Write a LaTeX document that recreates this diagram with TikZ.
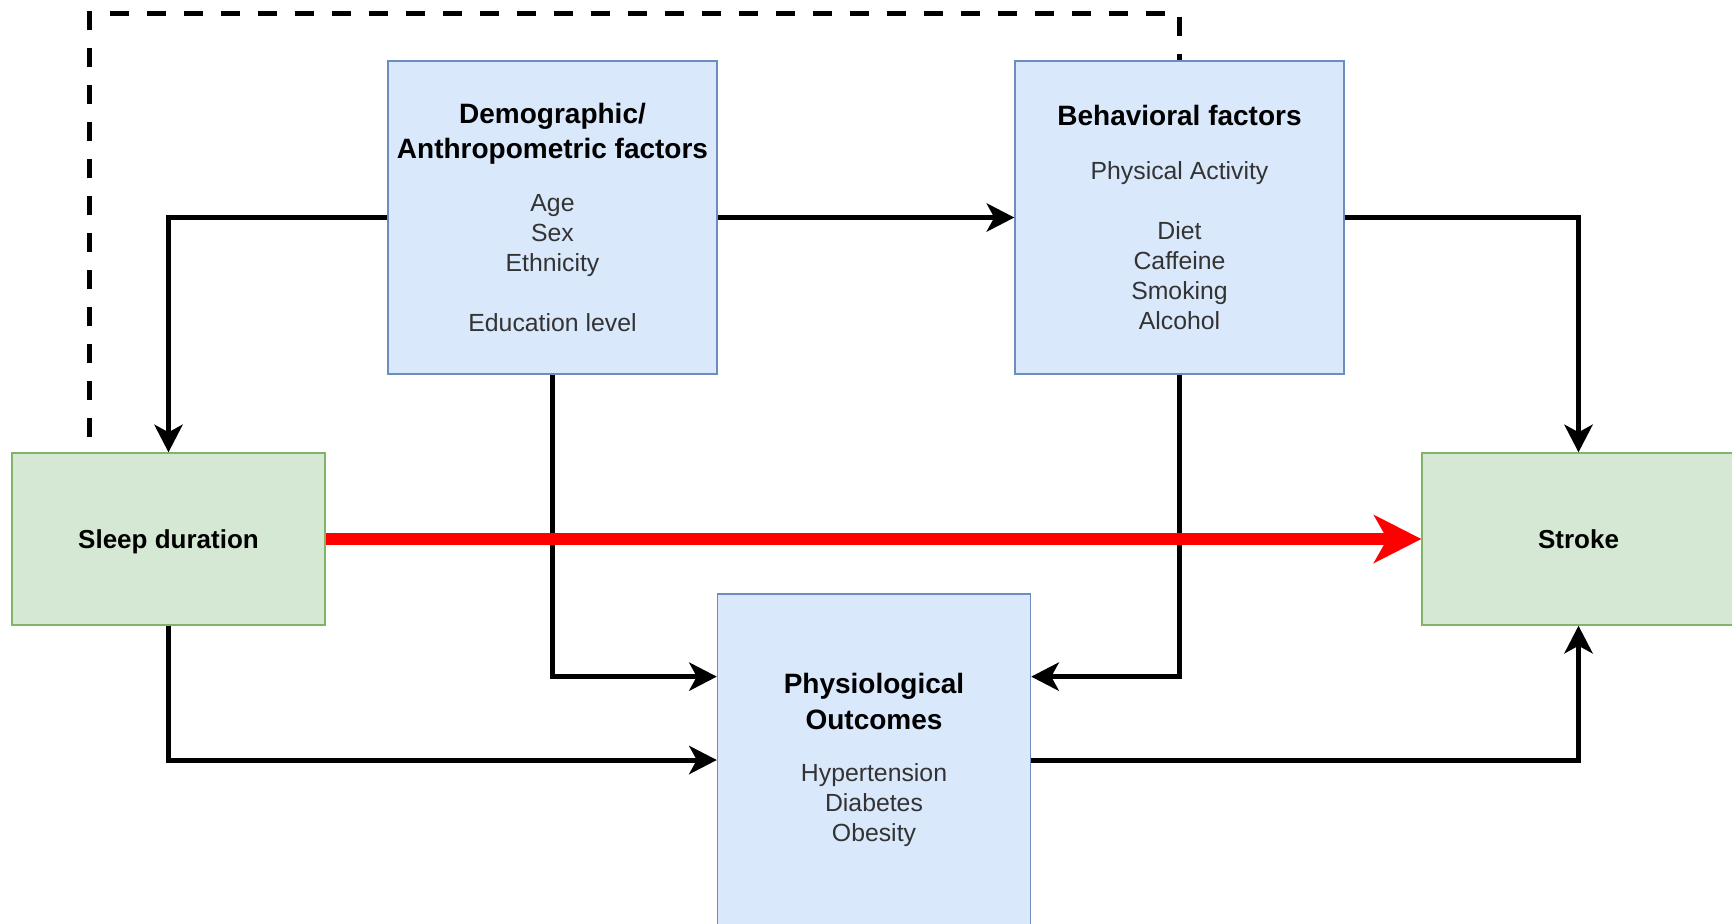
\documentclass[tikz,border=0pt]{standalone}
\usepackage{fontspec}
\setmainfont{Liberation Sans}
\usepackage{tikz}
\usetikzlibrary{arrows.meta, positioning, calc}
\definecolor{factorfill}{HTML}{DAE8FC}
\definecolor{factorline}{HTML}{6C8EBF}
\definecolor{endfill}{HTML}{D5E8D4}
\definecolor{endline}{HTML}{82B366}
\definecolor{bodygray}{HTML}{333333}
\newcommand{\ttl}[1]{{\color{black}\bfseries\fontsize{14}{16}\selectfont #1}}

\begin{document}
\begin{tikzpicture}[
    x=0.5pt, y=-0.5pt,
    factor/.style={rectangle, draw=factorline, fill=factorfill, line width=0.75pt,
                minimum width=164.5pt, minimum height=156.5pt, align=center,
                inner sep=0pt, text=bodygray, font=\fontsize{12.4}{15}\selectfont},
    endpoint/.style={rectangle, draw=endline, fill=endfill, line width=0.75pt,
                minimum width=156.5pt, minimum height=86pt, align=center,
                text height=9.5pt, text depth=0pt,
                font=\fontsize{13}{15}\selectfont\bfseries},
    arr/.style={-{Stealth[length=14pt, width=14.5pt, inset=4pt, line width=0pt]},
                line width=2.5pt, black},
    mainarr/.style={-{Stealth[length=24pt, width=24.5pt, inset=7pt, line width=0pt]},
                line width=6pt, red},
    dashline/.style={line width=2.5pt, black, dash pattern=on 9.5pt off 9pt, dash phase=11pt},
]
    \useasboundingbox (0,0) rectangle (1732,923);

    \node[factor] (demo) at (552.5,217.5)
        {\ttl{Demographic/}\\[2.1pt]\ttl{Anthropometric factors}\\[11.5pt]
         Age\\Sex\\Ethnicity\\[15pt]Education level};
    \node[factor] (beh) at (1179.5,217.5)
        {\ttl{Behavioral factors}\\[11.8pt]
         Physical Activity\\[15pt]Diet\\Caffeine\\Smoking\\Alcohol};
    \node[endpoint] (sleep) at (168.5,539) {Sleep duration};
    \node[endpoint] (stroke) at (1578.5,539) {Stroke};
    \node[factor, minimum width=156.5pt, minimum height=166pt] (phys) at (874,760)
        {\ttl{Physiological}\\[2.7pt]\ttl{Outcomes}\\[10.9pt]
         Hypertension\\Diabetes\\Obesity};

    % Confounder paths
    \draw[arr] (demo) -- (beh);
    \draw[arr] (demo.west) -| (sleep.north);
    \draw[arr] (beh.east) -| (stroke.north);
    \draw[arr] (demo.south) |- ($(phys.north west)!0.25!(phys.south west)$);
    \draw[arr] (beh.south) |- ($(phys.north east)!0.25!(phys.south east)$);

    % Mediator paths
    \draw[arr] (sleep.south) |- (phys.west);
    \draw[arr] (phys.east) -| (stroke.south);

    % Main association
    \draw[mainarr] (sleep.east) -- (stroke.west);

    \draw[dashline] ($(sleep.north west)!0.25!(sleep.north east)$) -- ++(0,-439) -| (beh.north);
\end{tikzpicture}
\end{document}
